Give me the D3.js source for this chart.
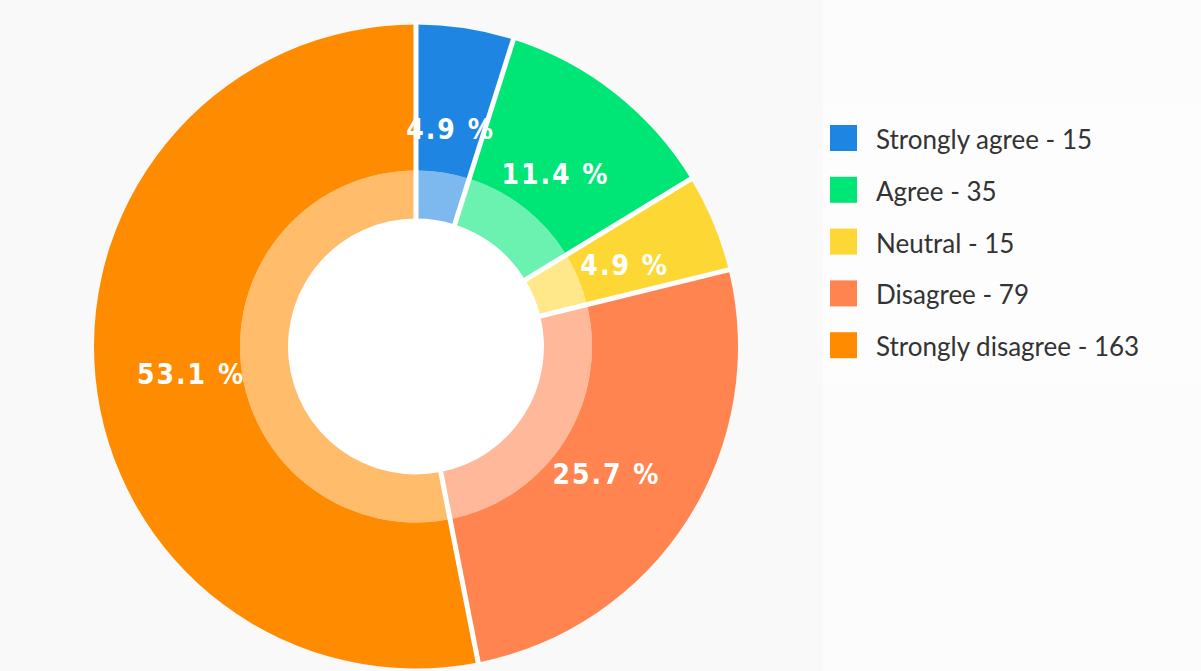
<!DOCTYPE html>
<html>
<head>
<meta charset="utf-8">
<script src="https://cdn.jsdelivr.net/npm/d3@7"></script>
<style>
  html, body { margin: 0; padding: 0; background: #f9f9f9; }
  svg { display: block; }
</style>
</head>
<body>
<svg id="chart" width="1201" height="671"></svg>
<script>
// Survey responses
const categories = ["Strongly agree", "Agree", "Neutral", "Disagree", "Strongly disagree"];
const counts = [15, 35, 15, 79, 163];
const colors = ["#1f85e3", "#00e676", "#fdd835", "#ff8450", "#ff8c00"];

const W = 1201, H = 671;
const cx = 416, cy = 346.5;
const rOuter = 322, rMid = 176, rInner = 128;

const svg = d3.select("#chart");

// background panels
svg.append("rect").attr("x", 0).attr("y", 0).attr("width", W).attr("height", H).attr("fill", "#f9f9f9");
svg.append("rect").attr("x", 823).attr("y", 0).attr("width", W - 823).attr("height", H).attr("fill", "#fcfcfc");
svg.append("rect").attr("x", 823).attr("y", 105).attr("width", W - 823).attr("height", 280).attr("fill", "#fdfdfd");

const total = d3.sum(counts);
const data = categories.map((c, i) => ({ name: c, value: counts[i], color: colors[i] }));

const pie = d3.pie().sort(null).value(d => d.value);
const arcs = pie(data);

const outerArc = d3.arc().innerRadius(rMid).outerRadius(rOuter);
const innerArc = d3.arc().innerRadius(rInner).outerRadius(rMid);

const g = svg.append("g").attr("transform", `translate(${cx},${cy})`);

// white hole
g.append("circle").attr("r", rInner).attr("fill", "#ffffff");

// pale inner band
g.selectAll("path.inner")
  .data(arcs)
  .join("path")
  .attr("class", "inner")
  .attr("d", innerArc)
  .attr("fill", d => d3.interpolateRgb(d.data.color, "#ffffff")(0.42));

// main ring
g.selectAll("path.outer")
  .data(arcs)
  .join("path")
  .attr("class", "outer")
  .attr("d", outerArc)
  .attr("fill", d => d.data.color);

// white separators between slices
g.selectAll("line.sep")
  .data(arcs)
  .join("line")
  .attr("class", "sep")
  .attr("x1", d => Math.sin(d.startAngle) * (rInner - 1))
  .attr("y1", d => -Math.cos(d.startAngle) * (rInner - 1))
  .attr("x2", d => Math.sin(d.startAngle) * (rOuter + 2))
  .attr("y2", d => -Math.cos(d.startAngle) * (rOuter + 2))
  .attr("stroke", "#ffffff")
  .attr("stroke-width", 5);

// percentage labels
const labelArc = d3.arc().innerRadius(226).outerRadius(226);
g.selectAll("text.pct")
  .data(arcs)
  .join("text")
  .attr("class", "pct")
  .attr("transform", d => {
    const [x, y] = labelArc.centroid(d);
    return `translate(${x},${y + 6})`;
  })
  .attr("text-anchor", "middle")
  .attr("dominant-baseline", "central")
  .attr("fill", "#ffffff")
  .attr("font-family", "'DejaVu Sans Condensed', 'DejaVu Sans', sans-serif")
  .attr("font-weight", "bold")
  .attr("font-size", 28)
  .attr("letter-spacing", 2)
  .text(d => (d.data.value / total * 100).toFixed(1) + " %");

// legend
const legend = svg.append("g").attr("transform", "translate(830,125)");
const rows = legend.selectAll("g.row")
  .data(data)
  .join("g")
  .attr("class", "row")
  .attr("transform", (d, i) => `translate(0,${i * 51.8})`);

rows.append("rect")
  .attr("width", 27).attr("height", 26)
  .attr("fill", d => d.color);

rows.append("text")
  .attr("x", 46)
  .attr("y", 14)
  .attr("dominant-baseline", "central")
  .attr("fill", "#333333")
  .attr("font-family", "Lato, 'Open Sans', sans-serif")
  .attr("font-size", 26)
  .text(d => `${d.name} - ${d.value}`);
</script>
</body>
</html>
